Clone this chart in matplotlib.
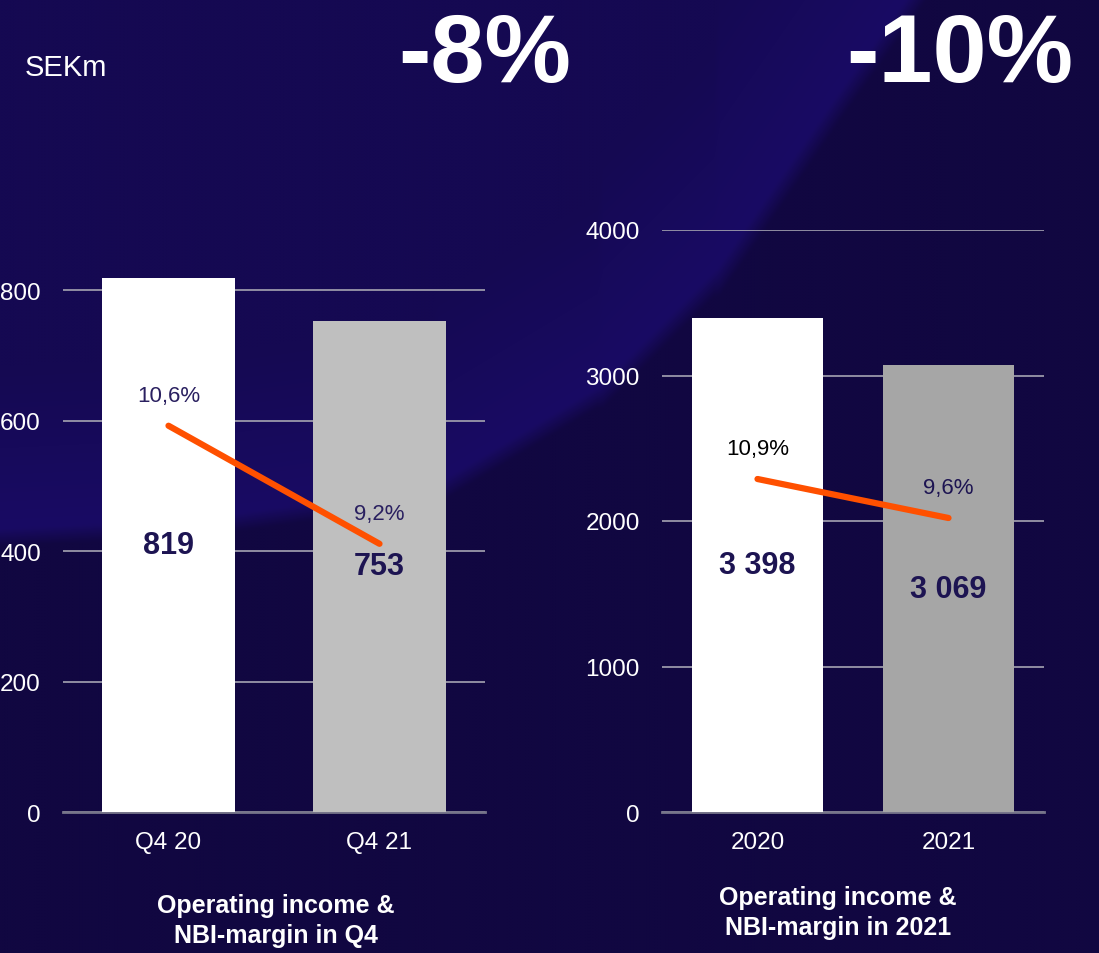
import numpy as np
import matplotlib
matplotlib.use("Agg")
import matplotlib.pyplot as plt
from matplotlib.colors import to_rgb

plt.rcParams['font.family'] = ['Liberation Sans', 'DejaVu Sans']

# data
q4_labels = ['Q4 20', 'Q4 21']
q4_income = [819, 753]
q4_margin = [10.6, 9.2]

year_labels = ['2020', '2021']
year_income = [3398, 3069]
year_margin = [10.9, 9.6]

q4_change = '-8%'
year_change = '-10%'

W, H = 1099, 954
fig = plt.figure(figsize=(W / 100, H / 100), dpi=100)

# background with the lighter swoosh
bg = fig.add_axes([0, 0, 1, 1], zorder=-10)
bg.set_axis_off()
step = 3
xs = np.arange(0, W, step)
ys = np.arange(0, H, step)
X, Y = np.meshgrid(xs, ys)
cx = np.array([-60, 0, 200, 433, 600, 717, 833, 905, 980])
cy = np.array([532, 528, 518, 485, 385, 268, 100, 0, -110])
curve = np.interp(X, cx, cy)
slope = np.gradient(np.interp(xs, cx, cy), xs)
slope = np.interp(X, xs, slope)
d = (curve - Y) / np.sqrt(1 + slope ** 2)
dark = np.array(to_rgb('#110741'))
band = np.array(to_rgb('#190b64'))
mid = np.array(to_rgb('#150952'))
t_in = np.clip(d / 160, 0, 1)[..., None]
t_out = np.clip(-d / 18, 0, 1)[..., None]
img = np.where(d[..., None] >= 0, band * (1 - t_in) + mid * t_in,
               band * (1 - t_out) + dark * t_out)
bg.imshow(img, extent=[0, W, H, 0], aspect='auto', interpolation='bilinear')
bg.set_xlim(0, W)
bg.set_ylim(H, 0)

navy = '#1d1452'
orange = '#ff5000'
grid_c = '#9a98aa'


def panel(rect, labels, income, margin, ymax, yticks, bar_w, colors, mlim, pct_colors):
    ax = fig.add_axes(rect)
    ax.patch.set_alpha(0)
    x = np.arange(len(labels))
    ax.bar(x, income, width=bar_w, color=colors, zorder=3)
    ax.set_xlim(-0.5, 1.5)
    ax.set_ylim(0, ymax)
    ax.set_yticks(yticks)
    ax.set_xticks(x)
    ax.set_xticklabels(labels)
    for s in ['top', 'right', 'left']:
        ax.spines[s].set_visible(False)
    ax.spines['bottom'].set_color('#77758a')
    ax.spines['bottom'].set_linewidth(2)
    ax.grid(axis='y', color=grid_c, linewidth=1.3, zorder=1)
    ax.tick_params(axis='both', length=0, colors='white', labelsize=17.5)
    ax.tick_params(axis='y', pad=16)
    ax.tick_params(axis='x', pad=14)
    for xi, v in zip(x, income):
        ax.text(xi, v / 2, f'{v:,}'.replace(',', ' '), ha='center', va='center',
                fontsize=22, fontweight='bold', color=navy, zorder=5)

    ax2 = ax.twinx()
    ax2.set_ylim(*mlim)
    ax2.set_axis_off()
    ax2.plot(x, margin, color=orange, linewidth=4.5, solid_capstyle='round', zorder=4)
    for xi, m, c in zip(x, margin, pct_colors):
        ax2.annotate(f'{m:.1f}%'.replace('.', ','), (xi, m), xytext=(0, 22),
                     textcoords='offset points', ha='center', va='center',
                     fontsize=16, color=c)
    return ax


panel([63 / W, 1 - 813 / H, 422 / W, (813 - 226) / H], q4_labels, q4_income, q4_margin,
      900, [0, 200, 400, 600, 800], 0.635, ['white', '#bfbfbf'], (6.02, 12.98),
      ['#2a2060', '#2a2060'])
panel([662 / W, 1 - 813 / H, 382 / W, (813 - 231) / H], year_labels, year_income, year_margin,
      4000, [0, 1000, 2000, 3000, 4000], 0.69, ['white', '#a6a6a6'], (-0.2, 19.2),
      ['black', navy])

fig.text(25 / W, 1 - 76 / H, 'SEKm', color='white', fontsize=21, va='baseline')
fig.text(485 / W, 1 - 82 / H, q4_change, color='white', fontsize=70,
         fontweight='bold', ha='center', va='baseline')
fig.text(960 / W, 1 - 82 / H, year_change, color='white', fontsize=70,
         fontweight='bold', ha='center', va='baseline')

fig.text(276 / W, 1 - 921 / H, 'Operating income &\nNBI-margin in Q4', color='white',
         fontsize=18, fontweight='bold', ha='center', va='center', linespacing=1.3)
fig.text(838 / W, 1 - 913 / H, 'Operating income &\nNBI-margin in 2021', color='white',
         fontsize=18, fontweight='bold', ha='center', va='center', linespacing=1.3)

fig.savefig('out.png', dpi=100)
